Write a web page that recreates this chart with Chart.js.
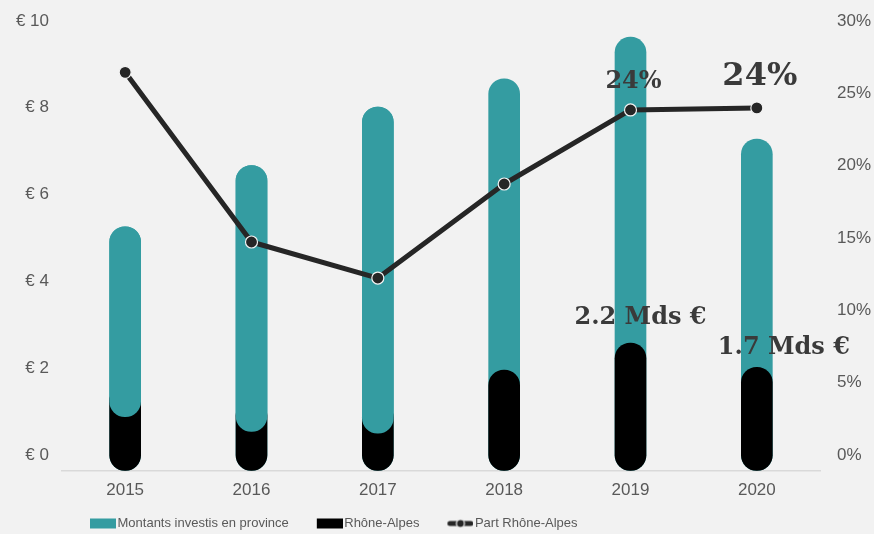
<!DOCTYPE html>
<html><head><meta charset="utf-8">
<script src="https://cdn.jsdelivr.net/npm/chart.js@4.4.1/dist/chart.umd.min.js"></script>
<style>html,body{margin:0;padding:0;background:#f2f2f2;}canvas{display:block;}</style>
</head><body>
<canvas id="c" width="874" height="534"></canvas>
<script>
// ---- data ----
const years = ['2015', '2016', '2017', '2018', '2019', '2020'];
const provinceTotals = [4.90, 6.31, 7.66, 8.31, 9.27, 6.92];   // Mds €
const rhoneAlpes = [1.24, 0.90, 0.86, 1.60, 2.22, 1.66];       // Mds €
const partRA = [26.45, 14.72, 12.23, 18.73, 23.85, 23.99];     // %
const leftTicks = [0, 2, 4, 6, 8, 10];
const rightTicks = [0, 5, 10, 15, 20, 25, 30];
const seriesNames = ['Montants investis en province', 'Rhône-Alpes', 'Part Rhône-Alpes'];

// ---- styles ----
const TEAL = '#349ca1', BLACK = '#000000', LINE = '#262626', BG = '#f2f2f2';
const TICK_COLOR = '#595959';
const CAP = 15.5;
const tealOverJoin = [true, true, true, false, false, false];

function legendImg(kind, color) {
  const cv = document.createElement('canvas');
  cv.width = 54; cv.height = 12;
  const g = cv.getContext('2d');
  if (kind === 'box') {
    g.fillStyle = color; g.fillRect(28, 1, 26, 10);
  } else {
    g.strokeStyle = color; g.lineWidth = 5; g.lineCap = 'round';
    g.beginPath(); g.moveTo(30.5, 6); g.lineTo(51.5, 6); g.stroke();
    g.beginPath(); g.arc(41, 6, 4, 0, Math.PI * 2);
    g.fillStyle = color; g.fill();
    g.lineWidth = 1.2; g.strokeStyle = BG; g.stroke();
  }
  return cv;
}

const capPlugin = {
  id: 'caps',
  beforeDatasetDraw(chart, args) {
    if (args.meta.type !== 'bar') return;
    args.meta.data.forEach(el => { el.$saved = [el.y, el.base]; el.y -= CAP; el.base += CAP; });
  },
  afterDatasetDraw(chart, args) {
    if (args.meta.type !== 'bar') return;
    args.meta.data.forEach(el => { if (el.$saved) { el.y = el.$saved[0]; el.base = el.$saved[1]; delete el.$saved; } });
  }
};

const notePlugin = {
  id: 'notes',
  afterDatasetsDraw(chart) {
    const ctx = chart.ctx, sx = chart.scales.x, sy = chart.scales.y, sy2 = chart.scales.y2;
    ctx.save();
    ctx.fillStyle = '#3a3a3a';
    ctx.textAlign = 'center';
    ctx.textBaseline = 'middle';
    const shareNotes = [{i: 4, size: 24, dx: 3, dy: -28}, {i: 5, size: 32, dx: 3, dy: -31}];
    shareNotes.forEach(n => {
      ctx.font = 'bold ' + n.size + 'px "DejaVu Serif"';
      ctx.fillText(Math.round(partRA[n.i]) + '%', sx.getPixelForValue(n.i) + n.dx, sy2.getPixelForValue(partRA[n.i]) + n.dy);
    });
    const mdsNotes = [{i: 4, size: 24, dx: 10, dy: -41}, {i: 5, size: 24, dx: 27, dy: -35}];
    mdsNotes.forEach(n => {
      ctx.font = 'bold ' + n.size + 'px "DejaVu Serif"';
      ctx.fillText(rhoneAlpes[n.i].toFixed(1) + ' Mds €', sx.getPixelForValue(n.i) + n.dx, sy.getPixelForValue(rhoneAlpes[n.i]) + n.dy);
    });
    ctx.restore();
  }
};

const tickFont = {family: '"Liberation Sans", Arial, sans-serif', size: 17};
const fitY = w => s => { s.width = w; s.paddingTop = 0; s.paddingBottom = 0; };

new Chart(document.getElementById('c'), {
  type: 'bar',
  data: {
    labels: years,
    datasets: [
      {
        type: 'line', label: seriesNames[2], data: partRA, yAxisID: 'y2', order: 0,
        borderColor: LINE, borderWidth: 5, borderCapStyle: 'round', borderJoinStyle: 'round',
        pointRadius: 6, pointBackgroundColor: LINE, pointBorderColor: BG, pointBorderWidth: 1.2,
        tension: 0, fill: false
      },
      {
        label: seriesNames[0] + ' (front)', data: rhoneAlpes.map((v, i) => [v, provinceTotals[i]]),
        yAxisID: 'y', order: 1, grouped: false, barThickness: 31,
        backgroundColor: c => tealOverJoin[c.dataIndex] ? TEAL : 'rgba(0,0,0,0)',
        borderRadius: CAP, borderSkipped: false
      },
      {
        label: seriesNames[1], data: rhoneAlpes, yAxisID: 'y', order: 2, grouped: false, barThickness: 31,
        backgroundColor: BLACK, borderRadius: CAP, borderSkipped: false
      },
      {
        label: seriesNames[0], data: provinceTotals, yAxisID: 'y', order: 3, grouped: false, barThickness: 31,
        backgroundColor: TEAL, borderRadius: CAP, borderSkipped: false
      }
    ]
  },
  options: {
    responsive: false,
    animation: false,
    devicePixelRatio: 1,
    layout: {padding: {top: 21, left: 0, right: 0, bottom: 0}},
    scales: {
      x: {
        grid: {display: false, drawTicks: false},
        border: {display: true, color: '#d9d9d9', width: 1.5},
        ticks: {color: TICK_COLOR, font: tickFont, padding: 9},
        afterFit: s => { s.height = 41; }
      },
      y: {
        position: 'left', min: -0.37, max: 10,
        grid: {display: false, drawTicks: false},
        border: {display: false},
        ticks: {color: TICK_COLOR, font: tickFont, padding: 13, callback: v => '€ ' + v},
        afterBuildTicks: s => { s.ticks = leftTicks.map(v => ({value: v})); },
        afterFit: fitY(62)
      },
      y2: {
        position: 'right', min: -1.11, max: 30,
        grid: {display: false, drawTicks: false},
        border: {display: false},
        ticks: {color: TICK_COLOR, font: tickFont, padding: 17, callback: v => v + '%'},
        afterBuildTicks: s => { s.ticks = rightTicks.map(v => ({value: v})); },
        afterFit: fitY(54)
      }
    },
    plugins: {
      tooltip: {enabled: false},
      legend: {
        position: 'bottom', align: 'start', fullSize: false, maxHeight: 22,
        labels: {
          usePointStyle: true, pointStyleWidth: 44, padding: 5,
          color: TICK_COLOR,
          font: {family: '"Liberation Sans", sans-serif', size: 13},
          generateLabels: chart => [
            {text: seriesNames[0], pointStyle: legendImg('box', TEAL), fontColor: TICK_COLOR, datasetIndex: 3, hidden: false, lineWidth: 0},
            {text: seriesNames[1], pointStyle: legendImg('box', BLACK), fontColor: TICK_COLOR, datasetIndex: 2, hidden: false, lineWidth: 0},
            {text: seriesNames[2], pointStyle: legendImg('line', LINE), fontColor: TICK_COLOR, datasetIndex: 0, hidden: false, lineWidth: 0}
          ]
        }
      }
    }
  },
  plugins: [capPlugin, notePlugin]
});
</script>
</body></html>
